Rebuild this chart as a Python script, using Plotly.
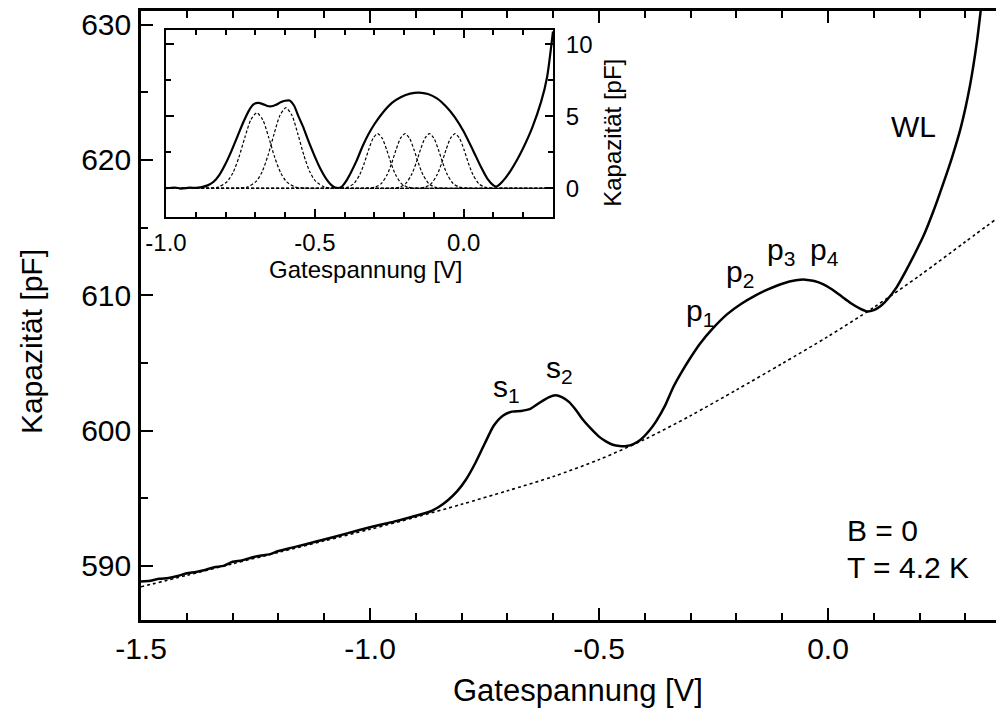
import plotly.graph_objects as go

# ---------------- data ----------------
# main panel: measured capacitance
main_v = [-1.50, -1.48, -1.46, -1.44, -1.42, -1.40, -1.38, -1.36, -1.34, -1.32, -1.30, -1.28, -1.26,
          -1.24, -1.22, -1.20, -1.17, -1.14, -1.10, -1.05, -1.00, -0.95, -0.90, -0.87, -0.85, -0.83,
          -0.81, -0.79, -0.77, -0.75, -0.73, -0.71, -0.69, -0.67, -0.65, -0.63, -0.61, -0.595, -0.58,
          -0.565, -0.55, -0.535, -0.515, -0.50, -0.485, -0.47, -0.455, -0.44, -0.425, -0.41, -0.39,
          -0.375, -0.355, -0.338, -0.32, -0.30, -0.28, -0.25, -0.22, -0.19, -0.16, -0.13, -0.10,
          -0.07, -0.05, -0.03, -0.01, 0.01, 0.03, 0.05, 0.07, 0.085, 0.10, 0.115, 0.13, 0.15, 0.17,
          0.19, 0.21, 0.23, 0.25, 0.27, 0.29, 0.31, 0.325, 0.335]
main_c = [588.85, 588.9, 589.05, 589.1, 589.25, 589.45, 589.55, 589.7, 589.9, 590.0, 590.3, 590.4, 590.6,
          590.75, 590.85, 591.1, 591.35, 591.6, 591.95, 592.4, 592.85, 593.25, 593.7, 594.0, 594.35, 594.85,
          595.5, 596.4, 597.6, 599.0, 600.35, 601.1, 601.4, 601.45, 601.6, 602.05, 602.45, 602.6, 602.45,
          602.1, 601.5, 600.8, 600.05, 599.55, 599.2, 598.95, 598.85, 598.85, 599.0, 599.3, 600.0,
          600.7, 601.9, 603.2, 604.3, 605.4, 606.4, 607.6, 608.6, 609.35, 609.95, 610.45, 610.85,
          611.1, 611.15, 611.05, 610.8, 610.4, 609.9, 609.4, 609.0, 608.8, 608.9, 609.2, 609.7, 610.6, 611.8,
          613.1, 614.5, 616.2, 618.1, 620.1, 622.4, 625.5, 628.7, 631.5]

# main panel: background (dotted)
bg_v = [-1.5, -1.4, -1.3, -1.2, -1.1, -1.0, -0.9, -0.8, -0.7, -0.6, -0.5, -0.4, -0.3, -0.2, -0.1,
        0.0, 0.1, 0.2, 0.3, 0.4]
bg_c = [588.45, 589.3, 590.15, 591.0, 591.85, 592.7, 593.6, 594.55, 595.55, 596.6, 597.85, 599.35,
        601.1, 603.0, 604.95, 606.95, 609.1, 611.45, 613.95, 616.45]

# inset: background-subtracted capacitance
ins_v = [-1.00, -0.97, -0.95, -0.92, -0.90, -0.88, -0.86, -0.84, -0.82, -0.80, -0.78, -0.76, -0.74,
         -0.72, -0.705, -0.69, -0.675, -0.66, -0.645, -0.63, -0.615, -0.60, -0.585, -0.57, -0.555,
         -0.54, -0.52, -0.50, -0.48, -0.46, -0.44, -0.425, -0.41, -0.395, -0.38, -0.36, -0.34, -0.32,
         -0.30, -0.27, -0.24, -0.21, -0.18, -0.15, -0.12, -0.09, -0.06, -0.03, 0.00, 0.03, 0.06, 0.08,
         0.10, 0.11, 0.12, 0.14, 0.16, 0.18, 0.20, 0.23, 0.26, 0.28, 0.30]
ins_c = [0.0, 0.05, -0.02, 0.04, 0.02, 0.08, 0.2, 0.45, 0.95, 1.7, 2.6, 3.6, 4.6,
         5.45, 5.85, 5.93, 5.85, 5.72, 5.7, 5.8, 5.97, 6.08, 6.1, 5.75, 5.0,
         4.3, 3.2, 2.2, 1.3, 0.6, 0.15, 0.02, 0.1, 0.5, 1.05, 1.9, 2.9, 3.75,
         4.45, 5.3, 5.95, 6.35, 6.58, 6.65, 6.55, 6.25, 5.7, 4.95, 3.95, 2.7, 1.4, 0.65,
         0.2, 0.12, 0.25, 0.7, 1.3, 2.0, 2.8, 4.2, 6.0, 7.7, 10.9]

# inset: fitted peaks (dashed)
s1_v = [-1.0, -0.90, -0.855, -0.825, -0.795, -0.775, -0.755, -0.735, -0.715, -0.695, -0.675, -0.655,
        -0.635, -0.615, -0.595, -0.565, -0.535, -0.48, 0.3]
s1_c = [0.0, 0.0, 0.01, 0.08, 0.45, 1.08, 2.16, 3.54, 4.76, 5.25, 4.76, 3.54,
        2.16, 1.08, 0.45, 0.08, 0.01, 0.0, 0.0]
s2_v = [-1.0, -0.82, -0.757, -0.727, -0.697, -0.677, -0.657, -0.637, -0.617, -0.597, -0.577, -0.557,
        -0.537, -0.517, -0.497, -0.467, -0.437, -0.38, 0.3]
s2_c = [0.0, 0.0, 0.01, 0.086, 0.476, 1.15, 2.30, 3.77, 5.07, 5.6, 5.07, 3.77,
        2.30, 1.15, 0.476, 0.086, 0.01, 0.0, 0.0]
p_c = [0.0, 0.0, 0.006, 0.08, 0.32, 0.95, 1.74, 2.69, 3.48, 3.8, 3.48, 2.69, 1.74, 0.95, 0.32, 0.08,
       0.006, 0.0, 0.0]
p1_v = [-1.0, -0.49, -0.419, -0.389, -0.369, -0.349, -0.334, -0.319, -0.304, -0.289, -0.274, -0.259,
        -0.244, -0.229, -0.209, -0.189, -0.159, -0.09, 0.3]
p2_v = [-1.0, -0.40, -0.327, -0.297, -0.277, -0.257, -0.242, -0.227, -0.212, -0.197, -0.182, -0.167,
        -0.152, -0.137, -0.117, -0.097, -0.067, 0.0, 0.3]
p3_v = [-1.0, -0.32, -0.245, -0.215, -0.195, -0.175, -0.160, -0.145, -0.130, -0.115, -0.100, -0.085,
        -0.070, -0.055, -0.035, -0.015, 0.015, 0.08, 0.3]
p4_v = [-1.0, -0.23, -0.159, -0.129, -0.109, -0.089, -0.074, -0.059, -0.044, -0.029, -0.014, 0.001,
        0.016, 0.031, 0.051, 0.071, 0.101, 0.17, 0.3]

main_xticks = [-1.5, -1.0, -0.5, 0.0]
main_xticklabels = ["-1.5", "-1.0", "-0.5", "0.0"]
main_yticks = [590, 600, 610, 620, 630]
inset_xticks = [-1.0, -0.5, 0.0]
inset_xticklabels = ["-1.0", "-0.5", "0.0"]
inset_yticks = [0, 5, 10]

FONT = "Liberation Sans, Arial, Helvetica, sans-serif"

fig = go.Figure()

# main
fig.add_trace(go.Scatter(x=bg_v, y=bg_c, mode="lines", line=dict(color="black", width=1.6, dash="dot",
                                                                 shape="spline", smoothing=0.8),
                         xaxis="x", yaxis="y", hoverinfo="skip"))
fig.add_trace(go.Scatter(x=main_v, y=main_c, mode="lines", line=dict(color="black", width=2.5,
                                                                     shape="spline", smoothing=0.6),
                         xaxis="x", yaxis="y"))

# inset
for pv, pc in [(s1_v, s1_c), (s2_v, s2_c), (p1_v, p_c), (p2_v, p_c), (p3_v, p_c), (p4_v, p_c)]:
    fig.add_trace(go.Scatter(x=pv, y=pc, mode="lines",
                             line=dict(color="black", width=1.2, dash="3px,2px", shape="spline", smoothing=0.7),
                             xaxis="x2", yaxis="y2", hoverinfo="skip"))
fig.add_trace(go.Scatter(x=ins_v, y=ins_c, mode="lines",
                         line=dict(color="black", width=2.2, shape="spline", smoothing=0.6),
                         xaxis="x2", yaxis="y2"))

axis_common = dict(showgrid=False, zeroline=False, showline=True, linecolor="black",
                   ticks="inside", tickcolor="black", mirror="ticks", automargin=False)

# the page body adds an 8 px offset; margins compensate for it
fig.update_layout(
    template="none",
    width=1004, height=718, autosize=False,
    margin=dict(l=133, r=0, t=3, b=106, pad=0),
    paper_bgcolor="white", plot_bgcolor="white", showlegend=False,
    font=dict(family=FONT, color="black"),
    xaxis=dict(**axis_common, range=[-1.5, 0.4017], domain=[0, 1], anchor="y",
               tickmode="array", tickvals=main_xticks, ticktext=main_xticklabels,
               ticklen=12, tickwidth=2, linewidth=2.5,
               minor=dict(dtick=0.1, tick0=0, ticklen=7, tickwidth=2, ticks="inside", tickcolor="black"),
               tickfont=dict(size=30, family=FONT), ticklabelstandoff=0),
    yaxis=dict(**axis_common, range=[586, 631], domain=[0, 1], anchor="x",
               tickmode="array", tickvals=main_yticks,
               ticklen=12, tickwidth=2, linewidth=2.5,
               minor=dict(dtick=5, tick0=0, ticklen=7, tickwidth=2, ticks="inside", tickcolor="black"),
               tickfont=dict(size=30, family=FONT), ticklabelstandoff=1),
    xaxis2=dict(**axis_common, range=[-1.0, 0.3], domain=[0.0287, 0.4730], anchor="y2",
                tickmode="array", tickvals=inset_xticks, ticktext=inset_xticklabels,
                ticklen=8, tickwidth=1.6, linewidth=2,
                minor=dict(dtick=0.1, tick0=0, ticklen=5, tickwidth=1.6, ticks="inside", tickcolor="black"),
                tickfont=dict(size=24, family=FONT), ticklabelstandoff=3),
    yaxis2=dict(**axis_common, range=[-2.0, 11.0], domain=[0.6617, 0.9688], anchor="x2", side="right",
                tickmode="array", tickvals=inset_yticks,
                ticklen=8, tickwidth=1.6, linewidth=2,
                minor=dict(dtick=2.5, tick0=0, ticklen=5, tickwidth=1.6, ticks="inside", tickcolor="black"),
                tickfont=dict(size=24, family=FONT), ticklabelstandoff=6),
)

ann_font = dict(size=30, family=FONT, color="black")
labels = [
    ("s<sub>1</sub>", -0.703, 603.1),
    ("s<sub>2</sub>", -0.587, 604.5),
    ("p<sub>1</sub>", -0.279, 608.7),
    ("p<sub>2</sub>", -0.192, 611.6),
    ("p<sub>3</sub>", -0.103, 613.2),
    ("p<sub>4</sub>", -0.007, 613.2),
    ("WL", 0.186, 622.5),
]
for txt, xv, yv in labels:
    fig.add_annotation(text=txt, x=xv, y=yv, xref="x", yref="y", showarrow=False,
                       font=ann_font, xanchor="center", yanchor="middle")
fig.add_annotation(text="B = 0", x=0.037, y=592.6, xref="x", yref="y", showarrow=False,
                   font=ann_font, xanchor="left", yanchor="middle")
fig.add_annotation(text="T = 4.2 K", x=0.037, y=589.9, xref="x", yref="y", showarrow=False,
                   font=ann_font, xanchor="left", yanchor="middle")

# axis titles
fig.add_annotation(text="Gatespannung [V]", x=0.5017, y=-0.115, xref="paper", yref="paper",
                   showarrow=False, font=dict(size=31, family=FONT), xanchor="center", yanchor="middle")
fig.add_annotation(text="Kapazität [pF]", x=-0.1263, y=0.458, xref="paper", yref="paper",
                   showarrow=False, font=dict(size=30, family=FONT), textangle=-90,
                   xanchor="center", yanchor="middle")
fig.add_annotation(text="Gatespannung [V]", x=0.2583, y=0.575, xref="paper", yref="paper",
                   showarrow=False, font=dict(size=24, family=FONT), xanchor="center", yanchor="middle")
fig.add_annotation(text="Kapazität [pF]", x=0.5419, y=0.80, xref="paper", yref="paper",
                   showarrow=False, font=dict(size=24, family=FONT), textangle=-90,
                   xanchor="center", yanchor="middle")

fig.write_html("out.html")
